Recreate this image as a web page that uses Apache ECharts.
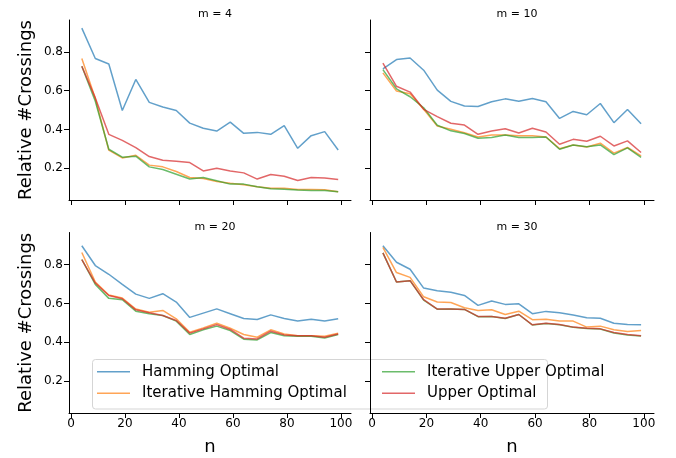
<!DOCTYPE html>
<html>
<head>
<meta charset="utf-8">
<script src="https://cdn.jsdelivr.net/npm/echarts@6/dist/echarts.min.js"></script>
<style>
html,body{margin:0;padding:0;background:#fff;}
#chart{width:676px;height:458px;}
</style>
</head>
<body>
<div id="chart"></div>
<script>
// ---- data ----
var nValues = [4, 9, 14, 19, 24, 29, 34, 39, 44, 49, 54, 59, 64, 69, 74, 79, 84, 89, 94, 99];
var seriesNames = ['Hamming Optimal', 'Iterative Hamming Optimal', 'Iterative Upper Optimal', 'Upper Optimal'];
var panelTitles = ['m = 4', 'm = 10', 'm = 20', 'm = 30'];
var yTicks = [0.2, 0.4, 0.6, 0.8];
var xTicks = [0, 20, 40, 60, 80, 100];

var m4_hamming = [0.923,0.766,0.738,0.498,0.658,0.540,0.516,0.498,0.433,0.406,0.392,0.438,0.380,0.385,0.375,0.420,0.303,0.368,0.389,0.294];
var m4_iterHamming = [0.766,0.560,0.293,0.253,0.267,0.216,0.207,0.183,0.152,0.147,0.132,0.123,0.115,0.104,0.097,0.097,0.090,0.090,0.089,0.078];
var m4_iterUpper = [0.726,0.546,0.298,0.257,0.262,0.207,0.193,0.169,0.144,0.152,0.135,0.118,0.118,0.104,0.094,0.092,0.087,0.085,0.085,0.078];
var m4_upper = [0.726,0.563,0.375,0.344,0.306,0.260,0.241,0.236,0.229,0.186,0.200,0.186,0.176,0.144,0.168,0.159,0.137,0.152,0.149,0.142];

var m10_hamming = [0.713,0.761,0.769,0.706,0.603,0.545,0.521,0.519,0.543,0.558,0.546,0.560,0.543,0.457,0.493,0.476,0.534,0.435,0.503,0.430];
var m10_iterHamming = [0.692,0.598,0.584,0.504,0.418,0.401,0.383,0.361,0.372,0.372,0.367,0.367,0.361,0.301,0.320,0.310,0.329,0.278,0.307,0.264];
var m10_iterUpper = [0.709,0.610,0.569,0.512,0.422,0.393,0.379,0.355,0.359,0.371,0.359,0.359,0.361,0.298,0.320,0.311,0.320,0.270,0.305,0.256];
var m10_upper = [0.743,0.623,0.593,0.504,0.466,0.432,0.423,0.375,0.392,0.404,0.382,0.406,0.387,0.324,0.349,0.339,0.365,0.315,0.341,0.281];

var m20_hamming = [0.897,0.795,0.750,0.698,0.648,0.626,0.650,0.607,0.528,0.550,0.572,0.547,0.522,0.517,0.541,0.522,0.509,0.519,0.509,0.521];
var m20_iterHamming = [0.862,0.710,0.643,0.628,0.571,0.555,0.564,0.521,0.452,0.474,0.498,0.472,0.440,0.426,0.464,0.443,0.434,0.434,0.431,0.447];
var m20_iterUpper = [0.826,0.698,0.626,0.619,0.560,0.547,0.538,0.509,0.440,0.464,0.483,0.460,0.416,0.412,0.450,0.434,0.431,0.431,0.422,0.440];
var m20_upper = [0.826,0.705,0.641,0.624,0.567,0.552,0.538,0.512,0.447,0.469,0.491,0.466,0.421,0.417,0.457,0.438,0.434,0.433,0.426,0.443];

var m30_hamming = [0.897,0.812,0.776,0.679,0.665,0.658,0.641,0.590,0.612,0.595,0.598,0.547,0.559,0.552,0.540,0.526,0.524,0.498,0.491,0.490];
var m30_iterHamming = [0.888,0.759,0.734,0.634,0.607,0.605,0.578,0.564,0.567,0.543,0.560,0.516,0.519,0.510,0.509,0.478,0.483,0.464,0.455,0.460];
var m30_iterUpper = [0.860,0.710,0.717,0.617,0.570,0.571,0.569,0.532,0.533,0.522,0.543,0.489,0.497,0.490,0.477,0.471,0.468,0.448,0.438,0.432];
var m30_upper = [0.860,0.710,0.717,0.619,0.571,0.571,0.569,0.533,0.533,0.524,0.543,0.490,0.498,0.491,0.478,0.472,0.469,0.450,0.440,0.434];

var panels = [
  [m4_hamming, m4_iterHamming, m4_iterUpper, m4_upper],
  [m10_hamming, m10_iterHamming, m10_iterUpper, m10_upper],
  [m20_hamming, m20_iterHamming, m20_iterUpper, m20_upper],
  [m30_hamming, m30_iterHamming, m30_iterUpper, m30_upper]
];
var colors = ['#1f77b4', '#ff7f0e', '#2ca02c', '#d62728'];

// ---- layout ----
var FONT = 'DejaVu Sans';
var grids = [
  {left: 69, top: 20, width: 282, height: 180},
  {left: 370, top: 20, width: 284, height: 180},
  {left: 69, top: 232.5, width: 282, height: 180.5},
  {left: 370, top: 232.5, width: 284, height: 180.5}
];

var xAxes = [], yAxes = [], titles = [], series = [];
grids.forEach(function (g, i) {
  var isBottom = i >= 2, isLeft = (i % 2) === 0;
  titles.push({
    text: panelTitles[i],
    left: g.left + g.width / 2,
    top: g.top - 16,
    textAlign: 'center',
    textStyle: {fontFamily: FONT, fontSize: 11, fontWeight: 'normal', color: '#000'}
  });
  xAxes.push({
    type: 'value', gridIndex: i, min: -0.75, max: 103.75,
    name: isBottom ? 'n' : '', nameLocation: 'middle', nameGap: 25,
    nameTextStyle: {fontFamily: FONT, fontSize: 18, color: '#000'},
    axisLine: {show: true, onZero: false, lineStyle: {color: '#000', width: 1}},
    axisTick: {show: true, length: 5, lineStyle: {color: '#000', width: 1}, customValues: xTicks},
    axisLabel: {show: isBottom, customValues: xTicks, margin: 5, fontFamily: FONT, fontSize: 12, color: '#000'},
    splitLine: {show: false}
  });
  yAxes.push({
    type: 'value', gridIndex: i, min: 0.036, max: 0.965, z: isLeft ? 0 : 30,
    name: isLeft ? 'Relative #Crossings' : '', nameLocation: 'middle', nameGap: 34,
    nameTextStyle: {fontFamily: FONT, fontSize: 18, color: '#000'},
    axisLine: {show: true, onZero: false, lineStyle: {color: '#000', width: 1}},
    axisTick: {show: true, length: 5, lineStyle: {color: '#000', width: 1}, customValues: yTicks},
    axisLabel: {show: isLeft, customValues: yTicks, margin: 6, fontFamily: FONT, fontSize: 12, color: '#000',
      formatter: function (v) { return v.toFixed(1); }},
    splitLine: {show: false}
  });
  panels[i].forEach(function (vals, k) {
    series.push({
      name: seriesNames[k], type: 'line', xAxisIndex: i, yAxisIndex: i,
      symbol: 'none', animation: false, z: 2 + k * 0.1,
      data: nValues.map(function (n, j) { return [n, vals[j]]; }),
      itemStyle: {color: colors[k], opacity: 0.7},
      lineStyle: {color: colors[k], width: 1.5, opacity: 0.7}
    });
  });
});

var legendCommon = {
  orient: 'vertical', icon: 'rect', itemWidth: 33, itemHeight: 1.5, itemGap: 1.6, z: 21,
  selectedMode: false, padding: 0,
  itemStyle: {opacity: 0.7},
  textStyle: {fontFamily: FONT, fontSize: 15, lineHeight: 20, color: '#000', padding: [0, 0, 0, 7]}
};

var option = {
  animation: false,
  backgroundColor: '#fff',
  title: titles,
  grid: grids,
  xAxis: xAxes,
  yAxis: yAxes,
  legend: [
    Object.assign({}, legendCommon, {left: 97, top: 361.7, data: [seriesNames[0], seriesNames[1]]}),
    Object.assign({}, legendCommon, {left: 382, top: 361.7, data: [seriesNames[2], seriesNames[3]]})
  ],
  graphic: [{
    type: 'rect', z: 20, silent: true,
    shape: {x: 92.5, y: 359.5, width: 455, height: 49.5, r: 3},
    style: {fill: 'rgba(255,255,255,0.8)', stroke: '#d5d5d5', lineWidth: 1}
  }],
  series: series
};

var chart = echarts.init(document.getElementById('chart'), null, {renderer: 'canvas'});
chart.setOption(option);
</script>
</body>
</html>
